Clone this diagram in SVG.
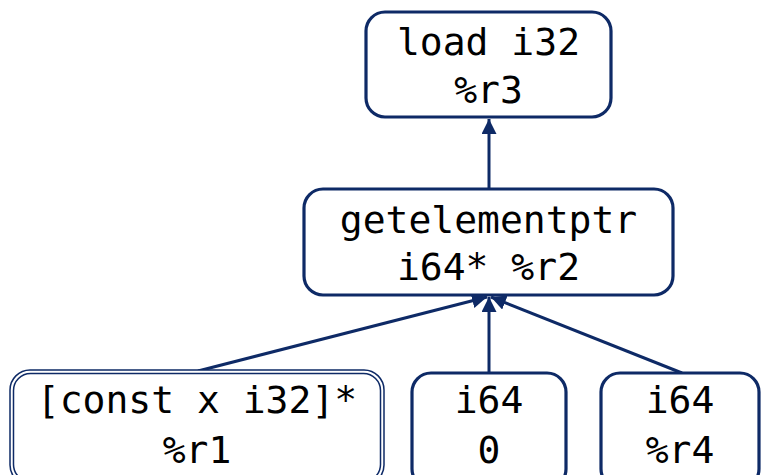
<svg xmlns="http://www.w3.org/2000/svg" width="761" height="475" viewBox="0 0 761 475">
<style>
.box{fill:#fff;stroke:#0E2A66;stroke-width:3.2}
.dbl{fill:none;stroke:#0E2A66;stroke-width:1.5}
.t{font-family:"DejaVu Sans Mono","Liberation Mono",monospace;font-size:38px;fill:#000;text-anchor:middle}
.e{stroke:#0E2A66;stroke-width:3;fill:none;marker-end:url(#arr)}
</style>
<defs>
<marker id="arr" viewBox="0 0 10 10" refX="10" refY="5" markerWidth="5" markerHeight="5" orient="auto" markerUnits="strokeWidth">
<path d="M0,0 L10,5 L0,10 z" fill="#0E2A66"/>
</marker>
</defs>
<rect width="761" height="475" fill="#fff"/>
<g id="edges">
<line class="e" x1="489" y1="188" x2="489" y2="119"/>
<line class="e" x1="198" y1="371" x2="487" y2="297"/>
<line class="e" x1="489" y1="373" x2="489" y2="297"/>
<line class="e" x1="682" y1="373" x2="491" y2="297"/>
</g>
<g id="n_load">
<rect class="box" x="366" y="12" width="245" height="105" rx="19"/>
<text class="t" x="488.5" y="55">load i32</text>
<text class="t" x="488.5" y="103">%r3</text>
</g>
<g id="n_gep">
<rect class="box" x="304" y="189" width="369" height="106" rx="19"/>
<text class="t" x="488.5" y="233">getelementptr</text>
<text class="t" x="488.5" y="280">i64* %r2</text>
</g>
<g id="n_r1">
<rect fill="#fff" x="10" y="370" width="374" height="115" rx="20"/>
<rect class="dbl" x="10" y="370" width="374" height="115" rx="20"/>
<rect class="dbl" x="13.5" y="373.5" width="367" height="108" rx="17"/>
<text class="t" x="197" y="413">[const x i32]*</text>
<text class="t" x="197" y="463">%r1</text>
</g>
<g id="n_zero">
<rect class="box" x="412" y="373" width="154" height="115" rx="19"/>
<text class="t" x="489" y="413">i64</text>
<text class="t" x="489" y="463">0</text>
</g>
<g id="n_r4">
<rect class="box" x="601" y="373" width="158" height="115" rx="19"/>
<text class="t" x="680" y="413">i64</text>
<text class="t" x="680" y="463">%r4</text>
</g>
</svg>
